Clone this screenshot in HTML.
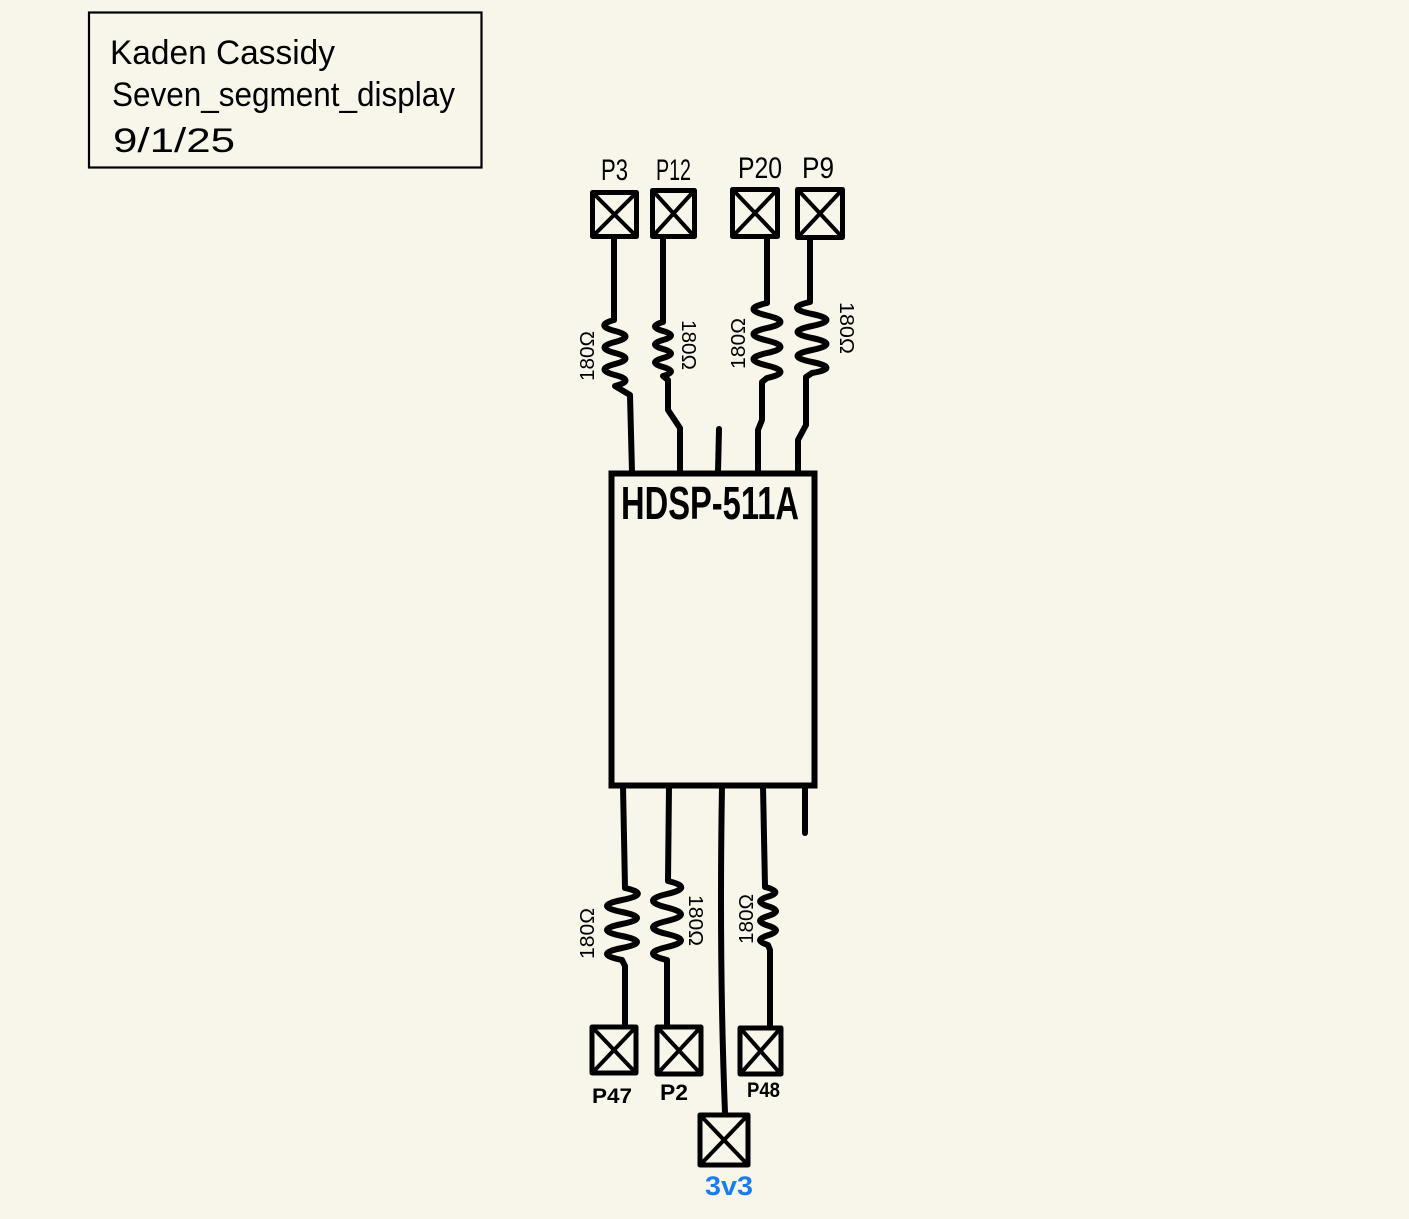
<!DOCTYPE html>
<html>
<head>
<meta charset="utf-8">
<style>
  html,body{margin:0;padding:0;background:#f8f6eb;}
  svg{display:block;}
  text{font-family:"Liberation Sans",sans-serif;fill:#000;}
</style>
</head>
<body>
<svg width="1409" height="1219" viewBox="0 0 1409 1219" xmlns="http://www.w3.org/2000/svg">
  <rect x="0" y="0" width="1409" height="1219" fill="#f8f6eb"/>

  <!-- title block -->
  <rect x="89" y="12.5" width="392.5" height="155" fill="none" stroke="#000" stroke-width="2.2"/>
  <text x="110" y="64" font-size="34" textLength="225" lengthAdjust="spacingAndGlyphs">Kaden Cassidy</text>
  <text x="112" y="106" font-size="34" textLength="343" lengthAdjust="spacingAndGlyphs">Seven_segment_display</text>
  <text x="113" y="152" font-size="34" textLength="122" lengthAdjust="spacingAndGlyphs">9/1/25</text>

  <!-- main box -->
  <rect x="611.5" y="473.5" width="203" height="312" fill="none" stroke="#000" stroke-width="6"/>
  <text x="621" y="519" font-size="46" font-weight="bold" textLength="178" lengthAdjust="spacingAndGlyphs">HDSP-511A</text>

  <g fill="none" stroke="#000" stroke-width="6" stroke-linecap="round" stroke-linejoin="round">
    <!-- top wires -->
    <path d="M614 238 L614 320 Q594 325.5 615 331 T615 342 T615 353 T615 364 T615 375 T615 386 L630 395 L632 472"/>
    <path d="M663 238 L663 322 Q647 326.5 663 331 T663 340 T663 349 T663 358 T663 367 T663 376 L668 380 L668 410 L680 428 L680 472"/>
    <path d="M719 429 L718 472"/>
    <path d="M767 238 L767 303 Q740 309 767 315.5 T767 328 T767 340.5 T767 353 T767 365.5 T767 378 L762 382 L762 420 L758 430 L758 472"/>
    <path d="M810 238 L810 302 Q783 308 812 314 T812 326 T812 338 T812 350 T812 362 T812 373 L806 377 L806 425 L798 440 L798 472"/>

    <!-- bottom wires -->
    <path d="M623 786 L625 888 Q652 894 622 900 T622 912 T622 924 T622 936 T622 948 T622 960 L625 966 L625 1025"/>
    <path d="M669 786 L668 881 Q695 887.5 667 894 T667 907.5 T667 921 T667 934 T667 947 T667 960 L667 1025"/>
    <path d="M722 786 Q719 960 725 1113"/>
    <path d="M763 786 L765 887 Q784 891.8 768 896.6 T768 906.3 T768 916 T768 925.6 T768 935.3 T768 945 L770 950 L770 1025"/>
    <path d="M805 786 L805 833"/>
  </g>

  <!-- pads -->
  <g fill="none" stroke="#000" stroke-width="5" stroke-linejoin="round">
    <rect x="592.5" y="192.5" width="44" height="44"/>
    <rect x="652.5" y="190.5" width="42" height="46"/>
    <rect x="732.5" y="189.5" width="45" height="47"/>
    <rect x="797.5" y="189.5" width="45" height="48"/>
    <rect x="592" y="1027" width="44" height="46"/>
    <rect x="657" y="1027" width="44" height="47"/>
    <rect x="740" y="1028" width="41" height="46"/>
    <rect x="700" y="1115" width="48" height="50"/>
  </g>
  <g stroke="#000" stroke-width="4" stroke-linecap="round">
    <path d="M594 194 L635 235 M635 194 L594 235"/>
    <path d="M654 192 L693 235 M693 192 L654 235"/>
    <path d="M734 191 L776 235 M776 191 L734 235"/>
    <path d="M799 191 L841 236 M841 191 L799 236"/>
    <path d="M594 1029 L634 1071 M634 1029 L594 1071"/>
    <path d="M659 1029 L699 1072 M699 1029 L659 1072"/>
    <path d="M742 1030 L779 1072 M779 1030 L742 1072"/>
    <path d="M702 1117 L746 1163 M746 1117 L702 1163"/>
  </g>

  <!-- pad labels -->
  <text x="601" y="180" font-size="30" textLength="27" lengthAdjust="spacingAndGlyphs">P3</text>
  <text x="656" y="180" font-size="30" textLength="35" lengthAdjust="spacingAndGlyphs">P12</text>
  <text x="738" y="178" font-size="30" textLength="44" lengthAdjust="spacingAndGlyphs">P20</text>
  <text x="802" y="178" font-size="30" textLength="32" lengthAdjust="spacingAndGlyphs">P9</text>

  <text x="592" y="1103" font-size="21" font-weight="bold" textLength="40" lengthAdjust="spacingAndGlyphs">P47</text>
  <text x="660" y="1100" font-size="22" font-weight="bold" textLength="28" lengthAdjust="spacingAndGlyphs">P2</text>
  <text x="747" y="1097" font-size="21" font-weight="bold" textLength="33" lengthAdjust="spacingAndGlyphs">P48</text>
  <text x="705" y="1195" font-size="27" font-weight="bold" fill="#1a7cf2" style="fill:#1a7cf2" textLength="48" lengthAdjust="spacingAndGlyphs">3v3</text>

  <!-- resistor labels -->
  <g font-size="20">
    <text transform="translate(594 381) rotate(-90)" textLength="50" lengthAdjust="spacingAndGlyphs">180Ω</text>
    <text transform="translate(682 320) rotate(90)" textLength="50" lengthAdjust="spacingAndGlyphs">180Ω</text>
    <text transform="translate(745 369) rotate(-90)" textLength="51" lengthAdjust="spacingAndGlyphs">180Ω</text>
    <text transform="translate(840 302) rotate(90)" textLength="52" lengthAdjust="spacingAndGlyphs">180Ω</text>

    <text transform="translate(594 959) rotate(-90)" textLength="51" lengthAdjust="spacingAndGlyphs">180Ω</text>
    <text transform="translate(689 895) rotate(90)" textLength="51" lengthAdjust="spacingAndGlyphs">180Ω</text>
    <text transform="translate(753 944) rotate(-90)" textLength="50" lengthAdjust="spacingAndGlyphs">180Ω</text>
  </g>
</svg>
</body>
</html>
